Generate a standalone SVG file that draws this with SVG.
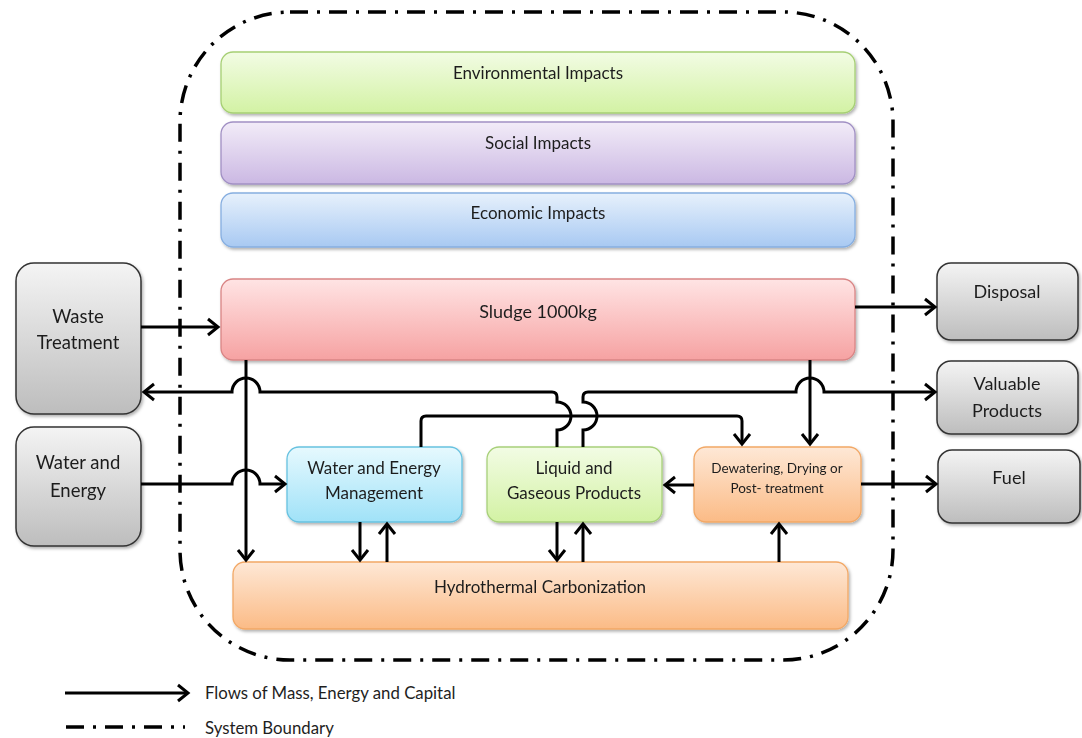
<svg xmlns="http://www.w3.org/2000/svg" width="1082" height="738" viewBox="0 0 1082 738">
<style>
text{font-family:Lato,"Liberation Sans",sans-serif;fill:#1e1e1e;text-anchor:middle;font-size:17px}
.small{font-size:13.5px}
.big{font-size:18px}
.gl{font-size:18.5px}
.leg{text-anchor:start;font-size:16.8px}
.c{fill:none;stroke:#000;stroke-width:3}
.a{marker-end:url(#ah)}
.bd{fill:none;stroke:#000;stroke-width:3.5;stroke-dasharray:18 9 3 9}
.box{filter:url(#sh)}
</style>
<defs>
<filter id="sh" x="-10%" y="-10%" width="120%" height="130%"><feDropShadow dx="1.5" dy="2" stdDeviation="1.6" flood-color="#000" flood-opacity="0.3"/></filter>
<linearGradient id="gGreen" x1="0" y1="0" x2="0" y2="1"><stop offset="0" stop-color="#f2fce4"/><stop offset="1" stop-color="#d3f2a4"/></linearGradient>
<linearGradient id="gPurple" x1="0" y1="0" x2="0" y2="1"><stop offset="0" stop-color="#f2ecf8"/><stop offset="1" stop-color="#cbb8e3"/></linearGradient>
<linearGradient id="gBlue" x1="0" y1="0" x2="0" y2="1"><stop offset="0" stop-color="#e7f1fc"/><stop offset="1" stop-color="#a8c9f2"/></linearGradient>
<linearGradient id="gRed" x1="0" y1="0" x2="0" y2="1"><stop offset="0" stop-color="#ffe4e4"/><stop offset="1" stop-color="#f6a2a2"/></linearGradient>
<linearGradient id="gGray" x1="0" y1="0" x2="0" y2="1"><stop offset="0" stop-color="#f4f4f4"/><stop offset="1" stop-color="#bdbdbd"/></linearGradient>
<linearGradient id="gCyan" x1="0" y1="0" x2="0" y2="1"><stop offset="0" stop-color="#e6f9fe"/><stop offset="1" stop-color="#a0e2f8"/></linearGradient>
<linearGradient id="gOrange" x1="0" y1="0" x2="0" y2="1"><stop offset="0" stop-color="#fee8d6"/><stop offset="1" stop-color="#fbbb86"/></linearGradient>
<marker id="ah" markerUnits="userSpaceOnUse" viewBox="-14 -11 17 22" markerWidth="17" markerHeight="22" refX="0" refY="0" orient="auto">
<path d="M-10,-8 L0,0 L-10,8" fill="none" stroke="#000" stroke-width="3"/>
</marker>
</defs>

<g id="boundary"><rect class="bd" x="180" y="12" width="713" height="648" rx="110" ry="110"/></g>

<g id="env" class="box"><rect x="221" y="52" width="634" height="61" rx="12" fill="url(#gGreen)" stroke="#a6cf74" stroke-width="1.3"/><text x="538" y="79">Environmental Impacts</text></g>
<g id="social" class="box"><rect x="221" y="122" width="634" height="62" rx="12" fill="url(#gPurple)" stroke="#a190c4" stroke-width="1.3"/><text x="538" y="149">Social Impacts</text></g>
<g id="economic" class="box"><rect x="221" y="193" width="634" height="54" rx="12" fill="url(#gBlue)" stroke="#86aee0" stroke-width="1.3"/><text x="538" y="219">Economic Impacts</text></g>
<g id="sludge" class="box"><rect x="221" y="279" width="634" height="81" rx="12" fill="url(#gRed)" stroke="#d98585" stroke-width="1.3"/><text class="big" x="538" y="318">Sludge 1000kg</text></g>

<g id="waste" class="box"><rect x="16" y="263" width="125" height="151" rx="18" fill="url(#gGray)" stroke="#333" stroke-width="1.5"/><text class="gl" x="78" y="323">Waste</text><text class="gl" x="78" y="349">Treatment</text></g>
<g id="watEnergy" class="box"><rect x="16" y="427" width="125" height="119" rx="18" fill="url(#gGray)" stroke="#333" stroke-width="1.5"/><text class="gl" x="78" y="469">Water and</text><text class="gl" x="78" y="497">Energy</text></g>

<g id="disposal" class="box"><rect x="937" y="263" width="141" height="77" rx="14" fill="url(#gGray)" stroke="#333" stroke-width="1.5"/><text class="big" x="1007" y="298">Disposal</text></g>
<g id="valuable" class="box"><rect x="937" y="361" width="141" height="73" rx="14" fill="url(#gGray)" stroke="#333" stroke-width="1.5"/><text class="big" x="1007" y="390">Valuable</text><text class="big" x="1007" y="417">Products</text></g>
<g id="fuel" class="box"><rect x="938" y="450" width="142" height="73" rx="14" fill="url(#gGray)" stroke="#333" stroke-width="1.5"/><text class="big" x="1009" y="484">Fuel</text></g>

<g id="wem" class="box"><rect x="287" y="447" width="175" height="75" rx="12" fill="url(#gCyan)" stroke="#67c2e0" stroke-width="1.3"/><text x="374" y="474">Water and Energy</text><text x="374" y="499">Management</text></g>
<g id="liquid" class="box"><rect x="487" y="447" width="175" height="75" rx="12" fill="url(#gGreen)" stroke="#a8d07a" stroke-width="1.3"/><text x="574" y="474">Liquid and</text><text x="574" y="499">Gaseous Products</text></g>
<g id="dewater" class="box"><rect x="694" y="447" width="167" height="75" rx="12" fill="url(#gOrange)" stroke="#f2a866" stroke-width="1.3"/><text class="small" x="777" y="473">Dewatering, Drying or</text><text class="small" x="777" y="493">Post- treatment</text></g>
<g id="htc" class="box"><rect x="233" y="562" width="615" height="67" rx="12" fill="url(#gOrange)" stroke="#f2a866" stroke-width="1.3"/><text x="540" y="593">Hydrothermal Carbonization</text></g>

<g id="connectors">
<path class="c a" d="M141,327 H218"/>
<path class="c a" d="M855,307 H935"/>
<path class="c a" d="M557,447 V430 A14,14 0 0 0 557,402 V397 Q557,392 552,392 H260 A14,14 0 0 0 232,392 H144"/>
<path class="c a" d="M583,447 V430 A14,14 0 0 0 583,402 V397 Q583,392 588,392 H796 A14,14 0 0 1 824,392 H935"/>
<path class="c a" d="M421,447 V421 Q421,416 426,416 H737 Q742,416 742,421 V444"/>
<path class="c a" d="M246,360 V560"/>
<path class="c a" d="M810,360 V444"/>
<path class="c a" d="M141,484 H232 A14,14 0 0 1 260,484 H285"/>
<path class="c a" d="M694,485 H665"/>
<path class="c a" d="M861,484 H936"/>
<path class="c a" d="M360,522 V560"/>
<path class="c a" d="M387,562 V524"/>
<path class="c a" d="M557,522 V560"/>
<path class="c a" d="M583,562 V524"/>
<path class="c a" d="M779,562 V524"/>
</g>

<g id="legend">
<path class="c a" d="M65,693 H188"/>
<text class="leg" x="205" y="699">Flows of Mass, Energy and Capital</text>
<path class="bd" d="M66,727 H185"/>
<text class="leg" x="205" y="734">System Boundary</text>
</g>
</svg>
